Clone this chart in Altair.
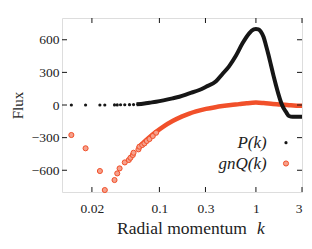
import altair as alt
import pandas as pd

# ---------------- data ----------------
# sparse low-k samples of P(k)
p_k_sparse = [0.01225, 0.0172, 0.0242, 0.0272, 0.0343, 0.0366, 0.0396, 0.0438, 0.049, 0.054, 0.0598]
p_v_sparse = [0, 0, 0, 0, 1, 1, 2, 2, 3, 4, 6]
# dense part of P(k)
p_k_dense = [0.058, 0.07, 0.079, 0.0925, 0.137, 0.161, 0.204, 0.259, 0.304, 0.386, 0.45, 0.529,
             0.62, 0.726, 0.851, 0.95, 1.0, 1.06, 1.124, 1.2, 1.267, 1.35, 1.43, 1.52, 1.61,
             1.71, 1.81, 1.92, 2.04, 2.2, 2.4, 2.9, 3.0]
p_v_dense = [6, 14, 21, 30, 61, 76, 107, 138, 168, 218, 285, 358,
             452, 567, 659, 695, 699, 695, 675, 625, 552, 460, 368, 270, 184,
             100, 30, -25, -62, -101, -108, -107, -107]
# sparse low-k samples of gnQ(k)
q_k_sparse = [0.01225, 0.0172, 0.0242, 0.0272, 0.0343, 0.0366, 0.0387, 0.0438, 0.0482, 0.0502,
              0.053, 0.054, 0.0607, 0.0622, 0.0664, 0.070, 0.074, 0.079, 0.0854, 0.0925]
q_v_sparse = [-276, -398, -607, -782, -690, -629, -583, -528, -506, -485,
              -460, -439, -408, -383, -368, -353, -331, -313, -285, -255]
# dense part of gnQ(k)
q_k_dense = [0.06, 0.0622, 0.07, 0.08, 0.0925, 0.11, 0.137, 0.17, 0.204, 0.24, 0.304, 0.38, 0.45,
             0.55, 0.67, 0.8, 1.0, 1.2, 1.5, 1.8, 2.2, 2.9, 3.0]
q_v_dense = [-398, -383, -338, -292, -247, -199, -148, -107, -79, -59, -36, -20, -10,
             0, 8, 16, 22, 18, 10, 5, -2, -8, -8]

x_ticks = [0.02, 0.1, 0.3, 1, 3]
y_ticks = [-600, -300, 0, 300, 600]
legend_labels = ["P(k)", "gnQ(k)"]

# ---------------- layout ----------------
W, H = 240, 174
BLACK = "#161616"
RED = "#f1502a"
SERIF = "Liberation Serif"
TXT = "#222"

xs = alt.Scale(type="log", domain=[0.0098, 3.0])
ys = alt.Scale(domain=[-800, 800])

p_sparse = pd.DataFrame({"k": p_k_sparse, "v": p_v_sparse})
p_dense = pd.DataFrame({"k": p_k_dense, "v": p_v_dense})
q_sparse = pd.DataFrame({"k": q_k_sparse, "v": q_v_sparse})
q_dense = pd.DataFrame({"k": q_k_dense, "v": q_v_dense})

x_axis = alt.Axis(values=x_ticks, format="~g", ticks=False, domain=False, grid=False,
                  labelFont=SERIF, labelFontSize=13.5, labelColor=TXT, labelPadding=9,
                  title=None)
y_axis = alt.Axis(values=y_ticks, ticks=False, domain=False, grid=False,
                  labelFont=SERIF, labelFontSize=13.5, labelColor=TXT, labelPadding=3,
                  title="Flux", titleFont=SERIF, titleFontSize=15, titleFontWeight="normal",
                  titleColor=TXT, titleX=-45, titleY=87, titleAngle=-90,
                  titleAlign="center", titleBaseline="middle")

q_line = alt.Chart(q_dense).mark_line(color=RED, strokeWidth=4.5, interpolate="monotone").encode(
    x=alt.X("k:Q", scale=xs, axis=x_axis),
    y=alt.Y("v:Q", scale=ys, axis=y_axis),
)
q_pts = alt.Chart(q_sparse).mark_point(shape="circle", size=26, filled=True, fill="#f6a08b",
                                       stroke=RED, strokeWidth=1, opacity=1).encode(
    x=alt.X("k:Q", scale=xs), y=alt.Y("v:Q", scale=ys))
p_line = alt.Chart(p_dense).mark_line(color=BLACK, strokeWidth=4, interpolate="monotone").encode(
    x=alt.X("k:Q", scale=xs), y=alt.Y("v:Q", scale=ys))
p_pts = alt.Chart(p_sparse).mark_circle(size=10, color=BLACK, opacity=1).encode(
    x=alt.X("k:Q", scale=xs), y=alt.Y("v:Q", scale=ys))

# inward ticks on all four sides
xt = pd.DataFrame({"t": x_ticks})
yt = pd.DataFrame({"t": y_ticks})
TL = 5
tick_b = alt.Chart(xt).mark_rule(color=BLACK, strokeWidth=1).encode(
    x=alt.X("t:Q", scale=xs), y=alt.value(H), y2=alt.value(H - TL))
tick_t = alt.Chart(xt).mark_rule(color=BLACK, strokeWidth=1).encode(
    x=alt.X("t:Q", scale=xs), y=alt.value(0), y2=alt.value(TL))
tick_l = alt.Chart(yt).mark_rule(color=BLACK, strokeWidth=1).encode(
    y=alt.Y("t:Q", scale=ys), x=alt.value(0), x2=alt.value(TL))
tick_r = alt.Chart(yt).mark_rule(color=BLACK, strokeWidth=1).encode(
    y=alt.Y("t:Q", scale=ys), x=alt.value(W), x2=alt.value(W - TL))

# x-axis title (with italic k)
one = pd.DataFrame({"a": [0]})
xtitle = alt.Chart(one).mark_text(text="Radial momentum", font=SERIF, fontSize=17.5,
                                  color=TXT, align="center", baseline="alphabetic").encode(
    x=alt.value(120), y=alt.value(216))
xtitle_k = alt.Chart(one).mark_text(text="k", font=SERIF, fontSize=17.5, fontStyle="italic",
                                    color=TXT, align="left", baseline="alphabetic").encode(
    x=alt.value(195), y=alt.value(216))

# legend
leg_p = alt.Chart(one).mark_text(text=legend_labels[0], font=SERIF, fontSize=17, fontStyle="italic",
                                 color=TXT, align="right", baseline="middle").encode(
    x=alt.value(204.7), y=alt.value(124.7))
leg_q = alt.Chart(one).mark_text(text=legend_labels[1], font=SERIF, fontSize=17, fontStyle="italic",
                                 color=TXT, align="right", baseline="middle").encode(
    x=alt.value(204.7), y=alt.value(145.5))
leg_p_sym = alt.Chart(one).mark_circle(size=10, color=BLACK, opacity=1).encode(
    x=alt.value(224), y=alt.value(124.7))
leg_q_sym = alt.Chart(one).mark_point(shape="circle", size=26, filled=True, fill="#f6a08b",
                                      stroke=RED, strokeWidth=1, opacity=1).encode(
    x=alt.value(224), y=alt.value(145.5))

chart = alt.layer(
    q_line, q_pts, p_line, p_pts, tick_b, tick_t, tick_l, tick_r,
    xtitle, xtitle_k, leg_p, leg_q, leg_p_sym, leg_q_sym
).properties(
    width=W, height=H,
    autosize=alt.AutoSizeParams(type="none"),
    padding={"left": 54, "top": 10, "right": 2, "bottom": 49},
).configure_view(
    stroke=BLACK, strokeWidth=1.5
).configure(background="white")

chart.save("out.html", embed_options={"renderer": "svg", "actions": False})
